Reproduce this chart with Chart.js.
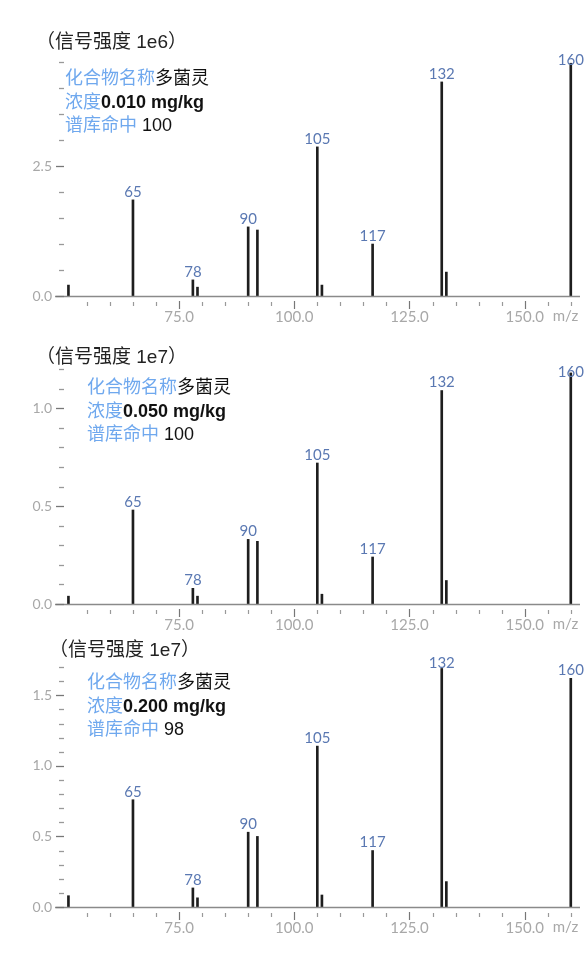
<!DOCTYPE html>
<html>
<head>
<meta charset="utf-8">
<script src="https://cdn.jsdelivr.net/npm/chart.js"></script>
<style>
    body { margin: 0; background: #fff; }
    #page { position: relative; width: 584px; height: 965px; overflow: hidden; }
    .panel { position: absolute; left: 0; width: 584px; }
    .titulo { position: absolute; font-family: "Liberation Sans", "Noto Sans CJK SC", sans-serif; font-size: 19px; line-height: 24px; color: #222; white-space: nowrap; }
    .info { position: absolute; font-family: "Liberation Sans", "Noto Sans CJK SC", sans-serif; font-size: 18px; line-height: 23.5px; color: #111; white-space: nowrap; }
    .azul { color: #6fa8ee; }
</style>
</head>
<body>
<div id="page">
    <div class="panel" style="top:0;height:330px"><canvas id="grafico1"></canvas></div>
    <div class="panel" style="top:320px;height:320px"><canvas id="grafico2"></canvas></div>
    <div class="panel" style="top:630px;height:335px"><canvas id="grafico3"></canvas></div>

    <div class="titulo" style="left:36px;top:30px">（信号强度 1e6）</div>
    <div class="info" style="left:65px;top:67px">
        <span class="azul">化合物名称</span>多菌灵<br>
        <span class="azul">浓度</span><b>0.010 mg/kg</b><br>
        <span class="azul">谱库命中</span> 100
    </div>

    <div class="titulo" style="left:36px;top:345px">（信号强度 1e7）</div>
    <div class="info" style="left:87px;top:376px">
        <span class="azul">化合物名称</span>多菌灵<br>
        <span class="azul">浓度</span><b>0.050 mg/kg</b><br>
        <span class="azul">谱库命中</span> 100
    </div>

    <div class="titulo" style="left:49px;top:638px">（信号强度 1e7）</div>
    <div class="info" style="left:87px;top:671px">
        <span class="azul">化合物名称</span>多菌灵<br>
        <span class="azul">浓度</span><b>0.200 mg/kg</b><br>
        <span class="azul">谱库命中</span> 98
    </div>
</div>

<script>
// m/z de los picos y etiquetas que se muestran
const mz = [51, 65, 78, 79, 90, 92, 105, 106, 117, 132, 133, 160];
const peakLabels = ['', '65', '78', '', '90', '', '105', '', '117', '132', '', '160'];

const intensity1 = [0.21, 1.85, 0.31, 0.17, 1.33, 1.27, 2.87, 0.21, 1.0, 4.12, 0.46, 4.48];
const intensity2 = [0.04, 0.48, 0.08, 0.04, 0.33, 0.32, 0.72, 0.05, 0.24, 1.09, 0.12, 1.18];
const intensity3 = [0.08, 0.76, 0.135, 0.065, 0.53, 0.50, 1.14, 0.085, 0.40, 1.69, 0.18, 1.62];

// etiquetas de los ejes
const xLabels = [75, 100, 125, 150];
const yLabels1 = [0, 2.5];
const yLabels2 = [0, 0.5, 1.0];
const yLabels3 = [0, 0.5, 1.0, 1.5];

const xMin = 48.3;
const xMax = 162;

function esEtiqueta(lista, v) {
    return lista.some(l => Math.abs(l - v) < 1e-6);
}

const dibujoEjes = {
    id: 'dibujoEjes',
    afterDatasetsDraw(chart, args, opts) {
        const ctx = chart.ctx;
        const area = chart.chartArea;
        const xs = chart.scales.x;
        const ys = chart.scales.y;
        ctx.save();

        // linea del eje x
        ctx.strokeStyle = '#8a8a8a';
        ctx.lineWidth = 1.3;
        ctx.beginPath();
        ctx.moveTo(area.left - 1, area.bottom + 0.5);
        ctx.lineTo(area.right, area.bottom + 0.5);
        ctx.stroke();

        // marcas del eje x
        xs.ticks.forEach(t => {
            if (t.value < 55) return;
            const x = Math.round(xs.getPixelForValue(t.value)) + 0.5;
            const mayor = esEtiqueta(xLabels, t.value);
            ctx.strokeStyle = mayor ? '#777' : '#999';
            ctx.lineWidth = 1.2;
            ctx.beginPath();
            ctx.moveTo(x, area.bottom + (mayor ? 5 : 6));
            ctx.lineTo(x, area.bottom + (mayor ? 13 : 10));
            ctx.stroke();
        });

        // marcas del eje y
        ys.ticks.forEach(t => {
            const y = Math.round(ys.getPixelForValue(t.value)) + 0.5;
            const mayor = esEtiqueta(opts.yLabels, t.value);
            ctx.strokeStyle = mayor ? '#777' : '#999';
            ctx.lineWidth = 1.3;
            ctx.beginPath();
            ctx.moveTo(area.left + (mayor ? 0 : 3), y);
            ctx.lineTo(area.left + 8, y);
            ctx.stroke();
        });

        // etiquetas de los picos
        const meta = chart.getDatasetMeta(0);
        ctx.font = '15px Lato, "Open Sans", sans-serif';
        ctx.fillStyle = '#5a78b2';
        ctx.textAlign = 'center';
        ctx.textBaseline = 'middle';
        meta.data.forEach((el, i) => {
            if (!peakLabels[i]) return;
            ctx.fillText(peakLabels[i], el.x, Math.max(el.y - 8, area.top + 3));
        });

        // unidad m/z junto a 150.0
        ctx.font = '15px Lato, "Open Sans", sans-serif';
        ctx.fillStyle = '#a8a8a8';
        ctx.textAlign = 'left';
        ctx.textBaseline = 'middle';
        ctx.fillText('m/z', xs.getPixelForValue(150) + 28, area.bottom + 20);
        ctx.restore();
    }
};

function crearGrafico(id, valores, yMax, yStep, yLabels, padTop, xAlto) {
    const ctx = document.getElementById(id).getContext('2d');
    return new Chart(ctx, {
        type: 'bar',
        data: {
            datasets: [{
                data: mz.map((x, i) => ({ x: x, y: valores[i] })),
                backgroundColor: '#1e1e1e',
                barThickness: 2,
                borderWidth: 0
            }]
        },
        options: {
            responsive: true,
            maintainAspectRatio: false,
            animation: false,
            layout: { padding: { top: padTop, right: 4, left: 0, bottom: 0 } },
            plugins: {
                legend: { display: false },
                tooltip: { enabled: false },
                dibujoEjes: { yLabels: yLabels }
            },
            scales: {
                x: {
                    type: 'linear',
                    min: xMin,
                    max: xMax,
                    offset: false,
                    grid: { display: false, drawTicks: false },
                    border: { display: false },
                    afterFit: s => { s.height = xAlto; },
                    ticks: {
                        stepSize: 5,
                        includeBounds: false,
                        autoSkip: false,
                        maxRotation: 0,
                        padding: 12,
                        color: '#a8a8a8',
                        font: { family: 'Lato, "Open Sans", sans-serif', size: 15 },
                        callback: v => esEtiqueta(xLabels, v) ? v.toFixed(1) : ''
                    }
                },
                y: {
                    min: 0,
                    max: yMax,
                    grid: { display: false, drawTicks: false },
                    border: { display: false },
                    afterFit: s => { s.width = 56; },
                    ticks: {
                        stepSize: yStep,
                        includeBounds: false,
                        autoSkip: false,
                        padding: 4,
                        color: '#a8a8a8',
                        font: { family: 'Lato, "Open Sans", sans-serif', size: 14 },
                        callback: v => esEtiqueta(yLabels, v) ? v.toFixed(1) : ''
                    }
                }
            }
        },
        plugins: [dibujoEjes]
    });
}

crearGrafico('grafico1', intensity1, 4.6, 0.5, yLabels1, 57, 34);
crearGrafico('grafico2', intensity2, 1.2, 0.1, yLabels2, 49, 36);
crearGrafico('grafico3', intensity3, 1.75, 0.1, yLabels3, 30, 58);
</script>
</body>
</html>
